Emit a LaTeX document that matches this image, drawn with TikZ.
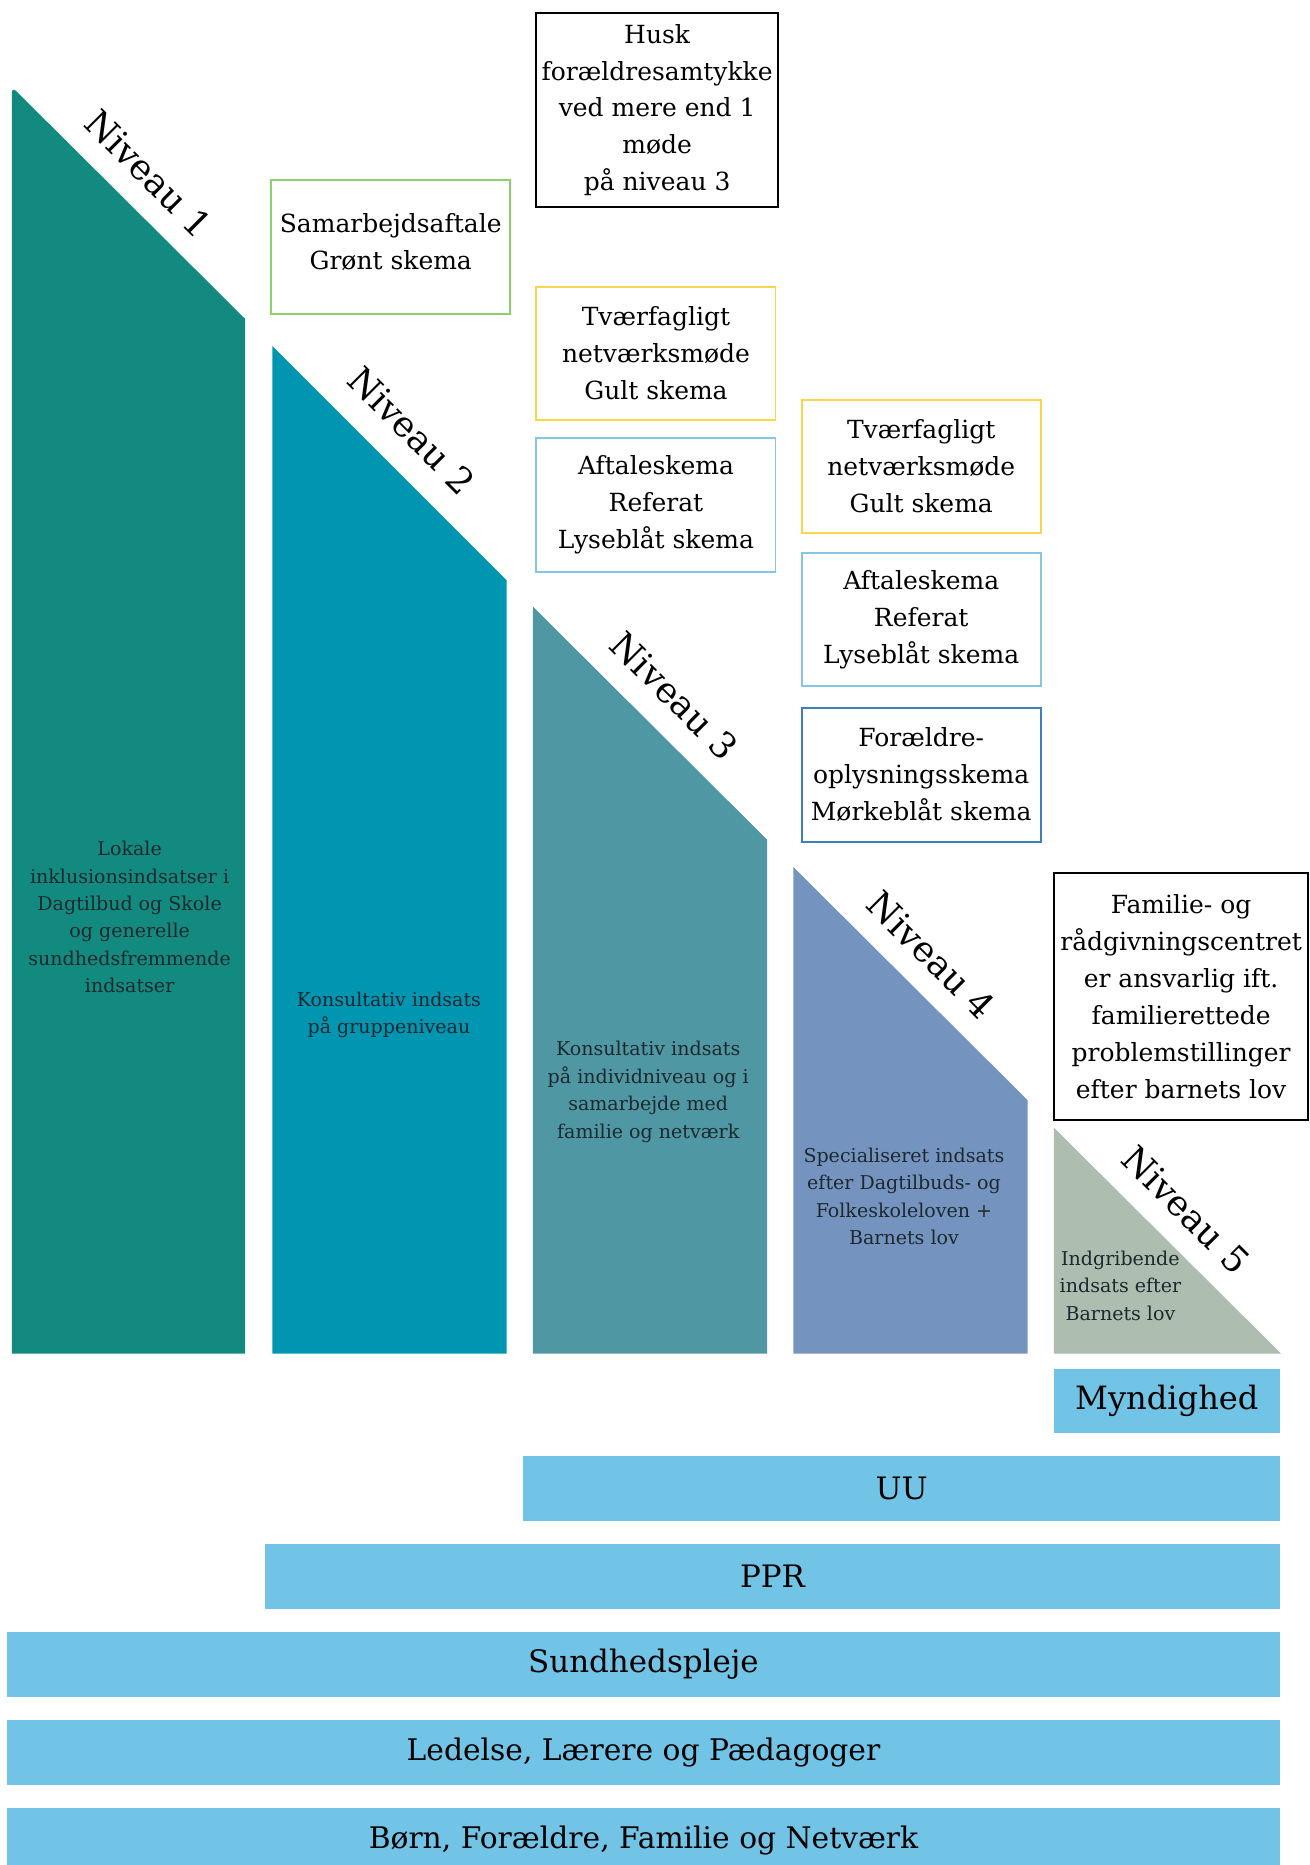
\documentclass[tikz,border=0pt]{standalone}
\usepackage{fontspec}
\setmainfont{DejaVu Serif}
\definecolor{cA}{RGB}{19,138,128}
\definecolor{cB}{RGB}{0,150,178}
\definecolor{cC}{RGB}{80,151,164}
\definecolor{cD}{RGB}{116,148,191}
\definecolor{cE}{RGB}{173,189,176}
\definecolor{barc}{RGB}{114,196,230}
\definecolor{bgreen}{RGB}{141,209,106}
\definecolor{byellow}{RGB}{247,214,78}
\definecolor{blight}{RGB}{134,198,227}
\definecolor{bdark}{RGB}{62,127,185}
\definecolor{coltext}{RGB}{28,40,46}
\tikzset{
  infobox/.style={draw, line width=1.6pt, align=center, inner sep=0pt, font=\fontsize{21}{31}\selectfont},
  boxtxt/.style={align=center, inner sep=0pt, font=\fontsize{21}{31}\selectfont},
  nivlabel/.style={rotate=-45, inner sep=0pt, font=\fontsize{30}{36}\selectfont},
  coltxt/.style={align=center, inner sep=0pt, text=coltext, font=\fontsize{16}{23}\selectfont},
  bartxt/.style={inner sep=0pt, font=\fontsize{26}{32}\selectfont},
  barfill/.style={fill=barc, draw=none}
}
\begin{document}
\begin{tikzpicture}[x=1pt,y=-1pt]
\useasboundingbox (0,0) rectangle (1101,1568);
% columns
\fill[cA] (10,1138) [rounded corners=5pt] -- (10,73) [sharp corners] -- (206,268) -- (206,1138) -- cycle;
\fill[cB] (229,1138) -- (229,291) -- (426,488) -- (426,1138) -- cycle;
\fill[cC] (448,1138) -- (448,510) -- (645,706) -- (645,1138) -- cycle;
\fill[cD] (667,1138) -- (667,729) -- (864,925) -- (864,1138) -- cycle;
\fill[cE] (886,1138) -- (886,948) -- (1077,1138) -- cycle;
% level labels
\node[nivlabel] (n1) at (125,146) {Niveau 1};
\node[nivlabel] (n2) at (346,362) {Niveau 2};
\node[nivlabel] (n3) at (567,585) {Niveau 3};
\node[nivlabel] (n4) at (783,803) {Niveau 4};
\node[nivlabel] (n5) at (997,1017) {Niveau 5};
% column texts
\node[coltxt] (t1) at (109,771) {Lokale\\inklusionsindsatser i\\Dagtilbud og Skole\\og generelle\\sundhedsfremmende\\indsatser};
\node[coltxt] (t2) at (327,853) {Konsultativ indsats\\på gruppeniveau};
\node[coltxt] (t3) at (545,918) {Konsultativ indsats\\på individniveau og i\\samarbejde med\\familie og netværk};
\node[coltxt] (t4) at (760,1006) {Specialiseret indsats\\efter Dagtilbuds- og\\Folkeskoleloven +\\Barnets lov};
\node[coltxt] (t5) at (942,1081) {Indgribende\\indsats efter\\Barnets lov};
% info boxes
\node[infobox, minimum width=203pt, minimum height=163pt] (husk) at (552.5,92.5) {Husk\\forældresamtykke\\ved mere end 1\\møde\\på niveau 3};
\node[infobox, draw=bgreen, minimum width=201pt, minimum height=113pt] (samarb) at (328.5,207.5) {};
\node[boxtxt] (samarbtxt) at (328.5,203.5) {Samarbejdsaftale\\Grønt skema};
\node[infobox, draw=byellow, minimum width=201pt, minimum height=112pt] (tvaer1) at (551.5,297) {Tværfagligt\\netværksmøde\\Gult skema};
\node[infobox, draw=blight, minimum width=201pt, minimum height=113pt] (aftale1) at (551.5,424.5) {Aftaleskema\\Referat\\Lyseblåt skema};
\node[infobox, draw=byellow, minimum width=201pt, minimum height=112pt] (tvaer2) at (774.5,392) {Tværfagligt\\netværksmøde\\Gult skema};
\node[infobox, draw=blight, minimum width=201pt, minimum height=112pt] (aftale2) at (774.5,521) {Aftaleskema\\Referat\\Lyseblåt skema};
\node[infobox, draw=bdark, minimum width=201pt, minimum height=113pt] (foraeldre) at (774.5,651.5) {Forældre-\\oplysningsskema\\Mørkeblåt skema};
\node[infobox, minimum width=214pt, minimum height=208pt] (familie) at (993,838) {Familie- og\\rådgivningscentret\\er ansvarlig ift.\\familierettede\\problemstillinger\\efter barnets lov};
% bars
\fill[barfill] (886,1151) rectangle (1076,1205);
\node[bartxt, font=\fontsize{27}{32}\selectfont] (myn) at (981,1178) {Myndighed};
\fill[barfill] (440,1224) rectangle (1076,1279);
\node[bartxt] (uu) at (758,1251.5) {UU};
\fill[barfill] (223,1298) rectangle (1076,1353);
\node[bartxt] (ppr) at (649.5,1325.5) {PPR};
\fill[barfill] (6,1372) rectangle (1076,1427);
\node[bartxt] (sund) at (541,1399.5) {Sundhedspleje};
\fill[barfill] (6,1446) rectangle (1076,1501);
\node[bartxt, font=\fontsize{25}{32}\selectfont] (led) at (541,1473.5) {Ledelse, Lærere og Pædagoger};
\fill[barfill] (6,1520) rectangle (1076,1568);
\node[bartxt, font=\fontsize{25}{32}\selectfont] (born) at (541,1547) {Børn, Forældre, Familie og Netværk};
\end{tikzpicture}
\end{document}
